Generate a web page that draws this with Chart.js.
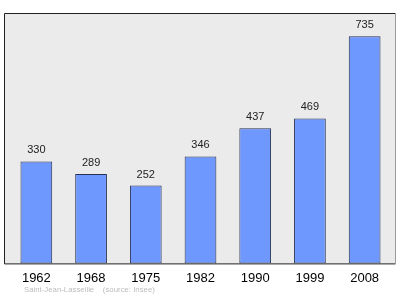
<!DOCTYPE html>
<html>
<head>
<meta charset="utf-8">
<script src="https://cdn.jsdelivr.net/npm/chart.js@4"></script>
<style>
  html, body { margin: 0; padding: 0; background: #fff; }
  #wrap { width: 400px; height: 299px; }
</style>
</head>
<body>
<div id="wrap"><canvas id="popChart" width="400" height="299"></canvas></div>
<script>
const years = ['1962', '1968', '1975', '1982', '1990', '1999', '2008'];
const population = [330, 289, 252, 346, 437, 469, 735];
const footerText = 'Saint-Jean-Lasseille    (source: Insee)';

// grey plot box behind the bars
const plotBox = {
    id: 'plotBox',
    beforeDraw(chart) {
        const c = chart.ctx;
        const area = chart.chartArea;
        const x0 = 4.5, y0 = 13.5, x1 = 395.5, y1 = area.bottom + 0.5;
        c.save();
        c.fillStyle = '#ebebeb';
        c.fillRect(x0, y0, x1 - x0, y1 - y0);
        c.lineWidth = 1;
        c.strokeStyle = '#222';
        c.beginPath();
        c.moveTo(x1, y0);
        c.lineTo(x0, y0);
        c.lineTo(x0, y1);
        c.lineTo(x1, y1);
        c.stroke();
        c.strokeStyle = '#9a9a9a';
        c.beginPath();
        c.moveTo(x1, y0);
        c.lineTo(x1, y1);
        c.stroke();
        c.restore();
    }
};

// values above bars + footer line
const valueLabels = {
    id: 'valueLabels',
    afterDatasetsDraw(chart) {
        const c = chart.ctx;
        const meta = chart.getDatasetMeta(0);
        c.save();
        c.font = '11px "Liberation Sans", Arial, sans-serif';
        c.fillStyle = '#222';
        c.textAlign = 'center';
        c.textBaseline = 'middle';
        meta.data.forEach(function (bar, i) {
            c.fillText(String(population[i]), bar.x, bar.y - 11);
        });
        c.font = '7.8px "Liberation Sans", Arial, sans-serif';
        c.fillStyle = '#bdbdbd';
        c.textAlign = 'left';
        c.fillText(footerText, 24, 290);
        c.restore();
    }
};

new Chart(document.getElementById('popChart').getContext('2d'), {
    type: 'bar',
    data: {
        labels: years,
        datasets: [{
            data: population,
            backgroundColor: '#6f98ff',
            borderColor: '#263050',
            borderWidth: 1,
            borderSkipped: false,
            barPercentage: 0.58,
            categoryPercentage: 1
        }]
    },
    options: {
        responsive: false,
        animation: false,
        layout: {
            padding: { left: 9, right: 8, top: 13, bottom: 6 }
        },
        scales: {
            x: {
                grid: { display: false, drawTicks: false, tickLength: 0 },
                border: { display: false },
                ticks: {
                    color: '#000',
                    padding: 7,
                    font: { family: '"Liberation Sans", Arial, sans-serif', size: 13 }
                }
            },
            y: {
                display: false,
                min: 0,
                max: 810
            }
        },
        plugins: {
            legend: { display: false },
            tooltip: { enabled: false }
        }
    },
    plugins: [plotBox, valueLabels]
});
</script>
</body>
</html>
